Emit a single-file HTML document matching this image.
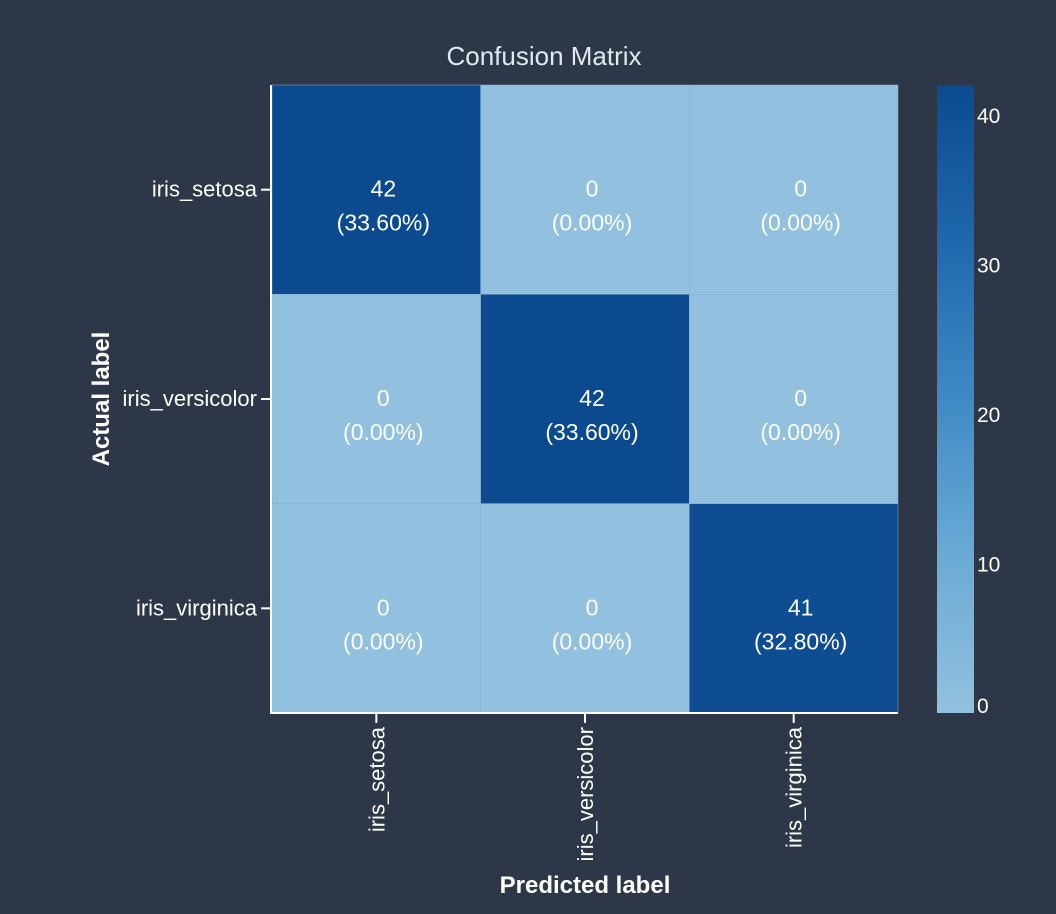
<!DOCTYPE html>
<html><head><meta charset="utf-8"><style>
html,body{margin:0;padding:0;background:#2d3748;}
svg{display:block;font-family:"Liberation Sans",sans-serif;}
</style></head><body>
<svg id="chart" width="1056" height="914">
<defs><linearGradient id="cb" x1="0" y1="1" x2="0" y2="0">
<stop offset="0" stop-color="#92c1df"/><stop offset="0.25" stop-color="#6aaad5"/><stop offset="0.5" stop-color="#3f8ac5"/><stop offset="0.75" stop-color="#1f68ad"/><stop offset="1" stop-color="#0b4a8f"/></linearGradient></defs>
<text x="544" y="65" fill="#e2e8f0" font-size="26" text-anchor="middle">Confusion Matrix</text>
<g id="cells"></g>
<line x1="271" y1="85" x2="271" y2="714" stroke="#fff" stroke-width="2"/>
<line x1="270" y1="713" x2="898" y2="713" stroke="#fff" stroke-width="2"/>
<g id="axes"></g>
<text x="109" y="399" fill="#fff" font-size="24" font-weight="bold" text-anchor="middle" transform="rotate(-90 109 399)">Actual label</text>
<text x="585" y="893" fill="#fff" font-size="24" font-weight="bold" text-anchor="middle">Predicted label</text>
<rect x="937" y="85" width="37" height="628" fill="url(#cb)"/>
<g id="cbticks"></g>
</svg>
<script>
const labels=["iris_setosa","iris_versicolor","iris_virginica"];
const counts=[[42,0,0],[0,42,0],[0,0,41]];
const total=125;
const cbTicks=[0,10,20,30,40];
const cbMax=42;
const NS="http://www.w3.org/2000/svg";
const x0=272,y0=85,W=626,H=628,n=labels.length,cw=W/n,ch=H/n;
function mk(t,a,p){const e=document.createElementNS(NS,t);for(const k in a)e.setAttribute(k,a[k]);p.appendChild(e);return e;}
function color(v){const t=v/cbMax;const a=[146,193,223],b=[11,74,143];return `rgb(${a.map((c,i)=>Math.round(c+(b[i]-c)*t)).join(',')})`;}
const cells=document.getElementById('cells'),axes=document.getElementById('axes'),cbt=document.getElementById('cbticks');
counts.forEach((row,r)=>row.forEach((v,c)=>{
 const x=x0+c*cw,y=y0+r*ch;
 const rc=mk('rect',{x:x,y:y,width:cw,height:ch,fill:color(v),stroke:'#83afcf','stroke-width':0.5},cells);
 
 
 const t1=mk('text',{x:x+cw/2+7,y:y+ch/2+7,fill:'#fff','font-size':23,'text-anchor':'middle'},cells);t1.textContent=v;
 
 
 const t2=mk('text',{x:x+cw/2+7,y:y+ch/2+41,fill:'#fff','font-size':23,'text-anchor':'middle'},cells);t2.textContent='('+(v/total*100).toFixed(2)+'%)';
 
 
}));
labels.forEach((l,i)=>{
 const y=y0+(i+0.5)*ch;
 mk('line',{x1:261,y1:y,x2:271,y2:y,stroke:'#fff','stroke-width':2},axes);
 const t=mk('text',{x:257,y:y+7,fill:'#fff','font-size':22,'text-anchor':'end'},axes);t.textContent=l;
 
 
 const x=x0+(i+0.5)*cw;
 mk('line',{x1:x,y1:713,x2:x,y2:723,stroke:'#fff','stroke-width':2},axes);
 const tx=mk('text',{x:x+8,y:727,fill:'#fff','font-size':22,'text-anchor':'end',transform:`rotate(-90 ${x+8} 727)`},axes);tx.textContent=l;
 
 
});
cbTicks.forEach(v=>{
 let y=713-v/cbMax*628;
 if(y>705)y=705;
 const t=mk('text',{x:977,y:y+8,fill:'#fff','font-size':21},cbt);t.textContent=v;
 
 
});
</script>
</body></html>
